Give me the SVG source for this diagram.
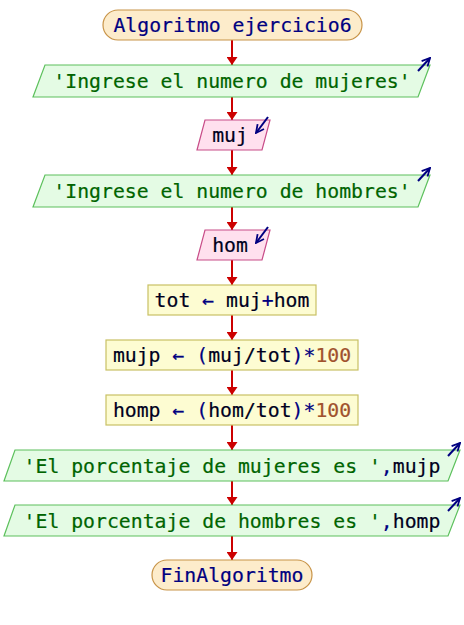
<svg xmlns="http://www.w3.org/2000/svg" width="464" height="625" viewBox="0 0 464 625">
  <defs>
    <marker id="down" markerWidth="8" markerHeight="11" refX="8" refY="5.5" orient="auto" markerUnits="userSpaceOnUse" viewBox="0 0 8 11">
      <path d="M0,0 L8,5.5 L0,11 Z" fill="#cc0000"/>
    </marker>
    <marker id="io" markerWidth="10" markerHeight="10" refX="9" refY="5" orient="auto" markerUnits="userSpaceOnUse" viewBox="0 0 10 10">
      <path d="M1,1 L9,5 L1,9" fill="none" stroke="#000080" stroke-width="1.8"/>
    </marker>
  </defs>
  <style>
    text { font-family: "DejaVu Sans Mono", "Liberation Mono", monospace; font-size: 19.8px; text-anchor: middle; stroke-width: 0.2px; }
    .term { fill: #fdeccb; stroke: #c89448; stroke-width: 1.2; }
    .out { fill: #e4fbe4; stroke: #5cc05c; stroke-width: 1.2; }
    .in { fill: #ffe0ee; stroke: #c84c88; stroke-width: 1.2; }
    .proc { fill: #fdfcd2; stroke: #c8c064; stroke-width: 1.2; }
    .edge { stroke: #cc0000; stroke-width: 2; fill: none; marker-end: url(#down); }
    .ioarrow { stroke: #000080; stroke-width: 2; fill: none; marker-end: url(#io); }
    .kw { fill: #000080; stroke: #000080; }
    .str { fill: #006400; stroke: #006400; }
    .var { fill: #000020; stroke: #000020; }
    .op { fill: #000080; stroke: #000080; }
    .num { fill: #a0522d; stroke: #a0522d; }
  </style>

  <!-- connectors -->
  <g id="connectors">
    <line class="edge" x1="232" y1="40" x2="232" y2="65"/>
    <line class="edge" x1="232" y1="97" x2="232" y2="120"/>
    <line class="edge" x1="232" y1="150" x2="232" y2="175"/>
    <line class="edge" x1="232" y1="207" x2="232" y2="230"/>
    <line class="edge" x1="232" y1="260" x2="232" y2="285"/>
    <line class="edge" x1="232" y1="315" x2="232" y2="340"/>
    <line class="edge" x1="232" y1="370" x2="232" y2="395"/>
    <line class="edge" x1="232" y1="425" x2="232" y2="450"/>
    <line class="edge" x1="232" y1="481" x2="232" y2="505"/>
    <line class="edge" x1="232" y1="536" x2="232" y2="560"/>
  </g>

  <g id="start">
    <rect class="term" x="103" y="10" width="259" height="30" rx="15"/>
    <text x="232.5" y="32" class="kw">Algoritmo ejercicio6</text>
  </g>

  <g id="out1">
    <polygon class="out" points="45,65 430,65 418,97 33,97"/>
    <line class="ioarrow" x1="418" y1="71" x2="430" y2="58"/>
    <text x="232" y="88" class="str">'Ingrese el numero de mujeres'</text>
  </g>

  <g id="in1">
    <polygon class="in" points="205,120 270,120 262,150 197,150"/>
    <line class="ioarrow" x1="268" y1="117" x2="256" y2="133"/>
    <text x="230" y="142" class="var">muj</text>
  </g>

  <g id="out2">
    <polygon class="out" points="45,175 430,175 418,207 33,207"/>
    <line class="ioarrow" x1="418" y1="181" x2="430" y2="168"/>
    <text x="232" y="198" class="str">'Ingrese el numero de hombres'</text>
  </g>

  <g id="in2">
    <polygon class="in" points="205,230 270,230 262,260 197,260"/>
    <line class="ioarrow" x1="268" y1="227" x2="256" y2="243"/>
    <text x="230" y="252" class="var">hom</text>
  </g>

  <g id="assign1">
    <rect class="proc" x="148" y="285" width="168" height="30"/>
    <text x="232" y="307"><tspan class="var">tot </tspan><tspan class="op">←</tspan><tspan class="var"> muj</tspan><tspan class="op">+</tspan><tspan class="var">hom</tspan></text>
  </g>

  <g id="assign2">
    <rect class="proc" x="106" y="340" width="252" height="30"/>
    <text x="232" y="362"><tspan class="var">mujp </tspan><tspan class="op">← (</tspan><tspan class="var">muj/tot</tspan><tspan class="op">)*</tspan><tspan class="num">100</tspan></text>
  </g>

  <g id="assign3">
    <rect class="proc" x="106" y="395" width="252" height="30"/>
    <text x="232" y="417"><tspan class="var">homp </tspan><tspan class="op">← (</tspan><tspan class="var">hom/tot</tspan><tspan class="op">)*</tspan><tspan class="num">100</tspan></text>
  </g>

  <g id="out3">
    <polygon class="out" points="15,450 460,450 448,481 4,481"/>
    <line class="ioarrow" x1="448" y1="456" x2="460" y2="443"/>
    <text x="232" y="473"><tspan class="str">'El porcentaje de mujeres es '</tspan><tspan class="op">,</tspan><tspan class="var">mujp</tspan></text>
  </g>

  <g id="out4">
    <polygon class="out" points="15,505 460,505 448,536 4,536"/>
    <line class="ioarrow" x1="448" y1="511" x2="460" y2="498"/>
    <text x="232" y="528"><tspan class="str">'El porcentaje de hombres es '</tspan><tspan class="op">,</tspan><tspan class="var">homp</tspan></text>
  </g>

  <g id="end">
    <rect class="term" x="152" y="560" width="160" height="30" rx="15"/>
    <text x="232" y="582" class="kw">FinAlgoritmo</text>
  </g>
</svg>
